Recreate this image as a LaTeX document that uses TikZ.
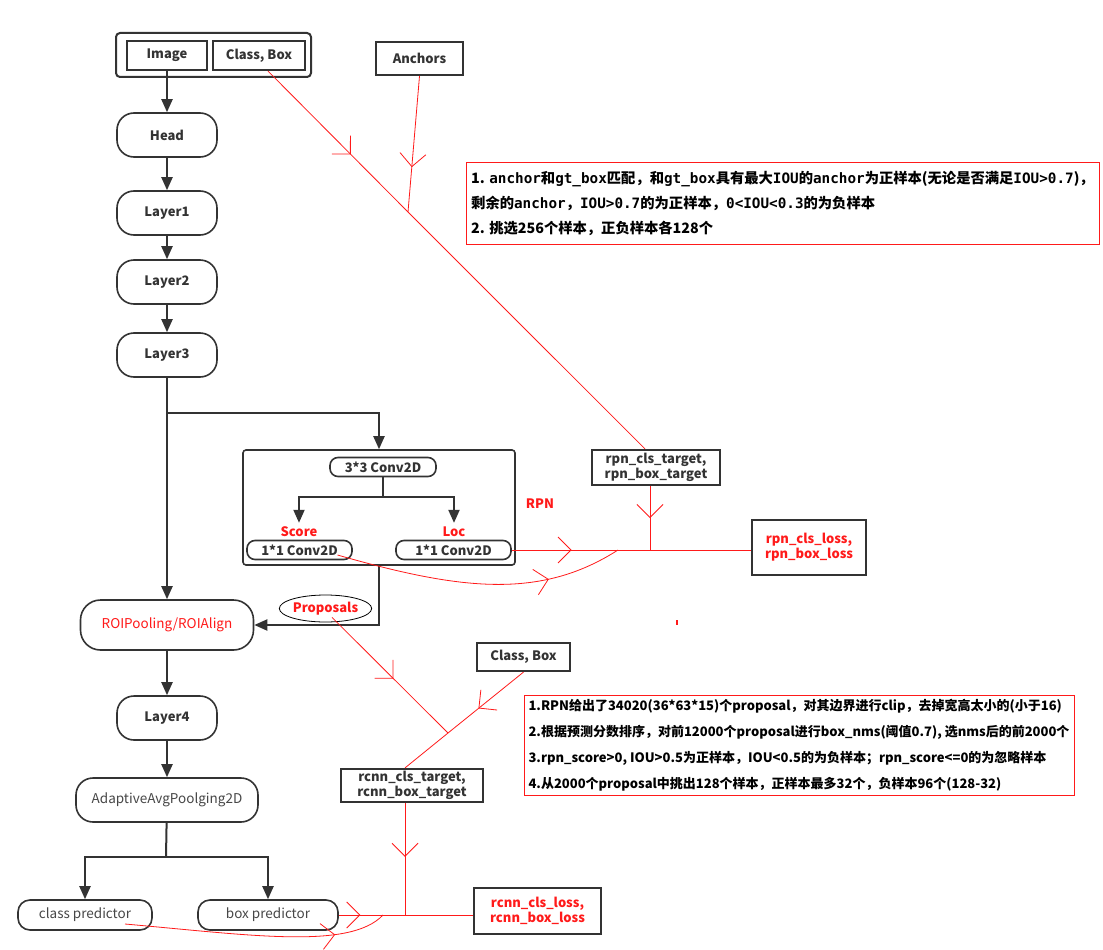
\documentclass[tikz,border=0pt]{standalone}
\usepackage{fontspec}
\setmainfont{Noto Sans CJK SC}
\newfontfamily\monofont{DejaVu Sans Mono}
\usetikzlibrary{positioning,arrows.meta,calc,decorations.markings,shapes.geometric}

\definecolor{ink}{HTML}{333333}
\definecolor{lred}{HTML}{FF1A1A}
\newcommand{\lbl}{\bfseries\fontsize{13}{15}\selectfont}
\newcommand{\plain}{\mdseries\fontsize{13.5}{15}\selectfont}
\newcommand{\mo}[1]{{\monofont\bfseries #1}}

\begin{document}
\begin{tikzpicture}[x=1pt,y=-1pt,>={Triangle[length=13pt,width=11pt]},on grid,
  every node/.style={font=\lbl,text=ink,inner sep=0pt},
  pill/.style={draw=ink,line width=1.6pt,rounded corners=17pt,minimum width=100pt,minimum height=44pt},
  smallpill/.style={draw=ink,line width=1.6pt,rounded corners=8pt,minimum height=19pt},
  tagbox/.style={draw=ink,line width=2.2pt,minimum height=30pt},
  notebox/.style={draw=lred,line width=1pt,align=left,font=\bfseries\fontsize{14.3}{25}\selectfont,text=black},
  arr/.style={->,draw=ink,line width=2pt},
  trunk/.style={draw=ink,line width=2pt},
  rline/.style={draw=lred,line width=0.8pt},
  rmid/.style={postaction={decorate},decoration={markings,
    mark=at position #1 with {\arrow[lred,line width=0.8pt]{Straight Barb[length=13pt,width=26pt]}}}}]
  \fill[white] (0,0) rectangle (1103,950);
  \useasboundingbox (0,0) rectangle (1103,950);

  % input
  \node[draw=ink,line width=2pt,rounded corners=4pt,minimum width=195pt,minimum height=44pt] (inframe) at (213.5,55) {};
  \node[tagbox,minimum width=80pt,minimum height=29pt] (img) at (167,55.5) {Image};
  \node[tagbox,minimum width=92pt,minimum height=29pt] (cb) at (259,55.5) {Class, Box};
  \node[tagbox,minimum width=87pt,minimum height=33pt] (anch) at (419.5,58.5) {Anchors};

  % backbone
  \node[pill] (head) [below=79.5pt of img] {Head};
  \node[pill] (layer1) [below=78pt of head] {Layer1};
  \node[pill] (layer2) [below=69pt of layer1] {Layer2};
  \node[pill] (layer3) [below=73pt of layer2] {Layer3};
  \node[pill,minimum width=173pt,minimum height=50pt,rounded corners=20pt,font=\plain,text=lred] (roi) [below=270pt of layer3] {ROIPooling/ROIAlign};
  \node[pill] (layer4) [below=93pt of roi] {Layer4};
  \node[pill,minimum width=182pt,font=\plain,text=ink!90] (adapt) [below=82pt of layer4] {AdaptiveAvgPoolging2D};
  \node[pill,minimum width=134pt,minimum height=30pt,rounded corners=12pt,font=\plain,text=ink!90] (classp) at (85,915) {class predictor};
  \node[pill,minimum width=140pt,minimum height=30pt,rounded corners=12pt,font=\plain,text=ink!90] (boxp) at (268,915) {box predictor};

  % rpn
  \node[draw=ink,line width=1.6pt,rounded corners=3pt,minimum width=272pt,minimum height=115pt] (rpnbox) at (379,507.5) {};
  \node[smallpill,minimum width=106pt] (conv3) at (383,467) {3*3 Conv2D};
  \node[smallpill,minimum width=105pt] (convl) at (299.5,550) {1*1 Conv2D};
  \node[smallpill,minimum width=115pt] (convr) at (453.5,550) {1*1 Conv2D};
  \node[text=lred] (score) at (299,532) {Score};
  \node[text=lred] (loc) at (454,532) {Loc};
  \node[text=lred] (rpnlbl) at (540,504) {RPN};
  \node[draw=black,line width=0.8pt,ellipse,minimum width=83pt,minimum height=27pt,text=lred] (prop) at (325.5,608.5) {Proposals};

  % targets and losses
  \node[tagbox,minimum width=128pt,minimum height=35pt,align=center] (rpntgt) at (656,467.5) {rpn\_cls\_target,\\rpn\_box\_target};
  \node[tagbox,minimum width=114pt,minimum height=55pt,align=center,text=lred] (rpnloss) at (809,547.5) {rpn\_cls\_loss,\\rpn\_box\_loss};
  \node[tagbox,minimum width=93pt,minimum height=28pt] (cb2) at (523.5,657) {Class, Box};
  \node[tagbox,minimum width=142pt,minimum height=33pt,align=center] (rcnntgt) at (412,785.5) {rcnn\_cls\_target,\\rcnn\_box\_target};
  \node[tagbox,minimum width=127pt,minimum height=46pt,align=center,text=lred] (rcnnloss) at (537.5,911) {rcnn\_cls\_loss,\\rcnn\_box\_loss};

  % notes
  \node[notebox,minimum width=633pt,minimum height=82pt] (note1) at (782.5,203) {%
    1. \mo{anchor}和\mo{gt\_box}匹配，和\mo{gt\_box}具有最大\mo{IOU}的\mo{anchor}为正样本(无论是否满足\mo{IOU>0.7})，\\
    剩余的\mo{anchor}，\mo{IOU>0.7}的为正样本，\mo{0<IOU<0.3}的为负样本\\
    2. 挑选256个样本，正负样本各128个};
  \node[notebox,minimum width=550pt,minimum height=100pt,font=\bfseries\fontsize{13}{26}\selectfont] (note2) at (799,745) {%
    1.RPN给出了34020(36*63*15)个proposal，对其边界进行clip，去掉宽高太小的(小于16)\\
    2.根据预测分数排序，对前12000个proposal进行box\_nms(阈值0.7), 选nms后的前2000个\\
    3.rpn\_score>0, IOU>0.5为正样本，IOU<0.5的为负样本；rpn\_score<=0的为忽略样本\\
    4.从2000个proposal中挑出128个样本，正样本最多32个，负样本96个(128-32)};

  % black flow
  \draw[arr] (img) -- (head);
  \draw[arr] (head) -- (layer1);
  \draw[arr] (layer1) -- (layer2);
  \draw[arr] (layer2) -- (layer3);
  \draw[arr] (layer3) -- (roi);
  \coordinate (split) at (166,413);
  \draw[arr] (split) -| (rpnbox.north);
  \coordinate (cfork) at (383,497);
  \draw[trunk] (conv3) -- (cfork);
  \draw[arr] (cfork) -| ($(score.north)+(0,-4)$);
  \draw[arr] (cfork) -| ($(loc.north)+(0,-4)$);
  \draw[arr] (rpnbox.south) |- (roi.east);
  \draw[arr] (roi) -- (layer4);
  \draw[arr] (layer4) -- (adapt);
  \coordinate (pfork) at (166,857);
  \draw[trunk] (adapt) -- (pfork);
  \draw[arr] (pfork) -| (classp.north);
  \draw[arr] (pfork) -| (boxp.north);

  % red flow
  \coordinate (ajoin) at (408,212);
  \draw[rline,rmid=0.22] ($(cb.south)+(9,0)$) -- (ajoin) -- ($(rpntgt.north)+(-11,0)$);
  \draw[rline,rmid=0.67] (anch.south) -- (ajoin);
  \coordinate (rjoin) at (650,550);
  \draw[rline,rmid=0.5] ($(rpntgt.south)+(-6,0)$) -- (rjoin);
  \draw[rline,rmid=0.25] (convr.east) -- (convr.east -| rpnloss.west);
  \coordinate (rcurve) at (618,550);
  \draw[rline,rmid=0.74] ($(convl.center)+(38,5)$) .. controls (460,590) and (540,600) .. (rcurve);
  \coordinate (pjoin) at (448,733);
  \draw[rline,rmid=0.53] ($(prop.south)+(6.5,-5)$) -- (pjoin);
  \draw[rline,rmid=0.38] (cb2.south) -- (pjoin) -- ($(rcnntgt.north)+(-7,0)$);
  \coordinate (qjoin) at (405,915);
  \draw[rline,rmid=0.48] ($(rcnntgt.south)+(-7,0)$) -- (qjoin);
  \draw[rline,rmid=0.16] (boxp.east) -- (boxp.east -| rcnnloss.west);
  \coordinate (qcurve) at (383,915);
  \draw[rline,rmid=0.8] ($(classp.center)+(40,9)$) .. controls (250,935) and (350,950) .. (qcurve);
  \fill[lred] (676,620) rectangle (677.5,624.5);
\end{tikzpicture}
\end{document}
